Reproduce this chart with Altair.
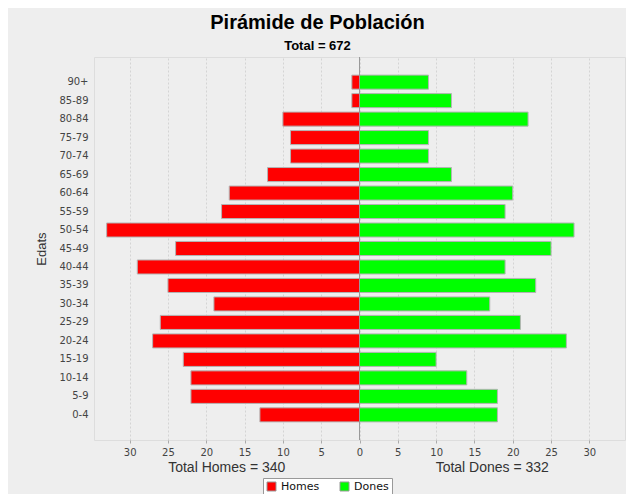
import altair as alt
import pandas as pd

# ---- data ----
edats = ["90+", "85-89", "80-84", "75-79", "70-74", "65-69", "60-64", "55-59",
         "50-54", "45-49", "40-44", "35-39", "30-34", "25-29", "20-24", "15-19",
         "10-14", "5-9", "0-4"]
homes = [1, 1, 10, 9, 9, 12, 17, 18, 33, 24, 29, 25, 19, 26, 27, 23, 22, 22, 13]
dones = [9, 12, 22, 9, 9, 12, 20, 19, 28, 25, 19, 23, 17, 21, 27, 10, 14, 18, 18]
sexes = ["Homes", "Dones"]
colors = ["#FF0000", "#00FF00"]
tick_values = [-30, -25, -20, -15, -10, -5, 0, 5, 10, 15, 20, 25, 30]

total_h = sum(homes)
total_d = sum(dones)
xmax = max(max(homes), max(dones)) * 1.05

rows = []
for e, h, d in zip(edats, homes, dones):
    rows.append({"Edat": e, "Sexe": "Homes", "v": -h})
    rows.append({"Edat": e, "Sexe": "Dones", "v": d})
df = pd.DataFrame(rows)

totals = pd.DataFrame({
    "x": [-xmax / 2, xmax / 2],
    "t": [f"Total Homes = {total_h}", f"Total Dones = {total_d}"],
})
zero = pd.DataFrame({"x": [0]})

W, H = 531, 383
xscale = alt.Scale(domain=[-xmax, xmax], nice=False, zero=True)
yscale = alt.Scale(domain=edats, paddingInner=0.24, paddingOuter=0.98)

bars = alt.Chart(df).mark_bar(stroke="#b4b4b4", strokeWidth=1).encode(
    x=alt.X("v:Q", scale=xscale,
            axis=alt.Axis(values=tick_values, labelExpr="'' + abs(datum.value)",
                          title=None, grid=True, gridDash=[2, 2], gridColor="#d4d4d4",
                          tickSize=3, tickColor="#aaaaaa", domain=False, labelPadding=4,
                          labelFont="DejaVu Sans", labelFontSize=10, labelColor="#444444")),
    y=alt.Y("Edat:N", scale=yscale, sort=edats,
            axis=alt.Axis(title="Edats", ticks=False, domain=False, labelPadding=6,
                          labelFont="DejaVu Sans", labelFontSize=10, labelColor="#444444",
                          titleFont="Liberation Sans", titleFontSize=13,
                          titleFontWeight="normal", titleColor="#333333", titlePadding=10)),
    color=alt.Color("Sexe:N", scale=alt.Scale(domain=sexes, range=colors),
                    legend=alt.Legend(title=None, orient="none", legendX=169, legendY=421,
                                      direction="horizontal", symbolType="square",
                                      symbolSize=81, symbolStrokeColor="#999999",
                                      symbolStrokeWidth=1, labelFont="DejaVu Sans",
                                      labelFontSize=11, labelColor="#111111",
                                      strokeColor="#999999", fillColor="white",
                                      padding=3, columnPadding=18, labelOffset=4)),
)

rule = alt.Chart(zero).mark_rule(color="#999999", strokeWidth=1).encode(
    x=alt.X("x:Q", scale=xscale)
)

txt = alt.Chart(totals).mark_text(font="Liberation Sans", fontSize=14, color="#333333",
                                  baseline="middle", align="center").encode(
    x=alt.X("x:Q", scale=xscale),
    y=alt.value(411),
    text="t:N",
)

chart = alt.layer(bars, rule, txt).properties(
    width=W, height=H,
    title=alt.TitleParams(text="Pirámide de Población",
                          subtitle=f"Total = {total_h + total_d}",
                          font="Liberation Sans", fontSize=20, fontWeight="bold",
                          color="black", subtitleFont="Liberation Sans",
                          subtitleFontSize=13, subtitleFontWeight="bold",
                          subtitleColor="black", anchor="middle", dx=-42,
                          offset=4, subtitlePadding=7),
    autosize=alt.AutoSizeParams(type="none"),
    padding={"left": 86, "top": 49, "right": 1, "bottom": 54},
).configure_view(fill="white", stroke="#aaaaaa").configure(background="#EEEEEE")

chart.save("out.html", embed_options={"renderer": "svg", "actions": False})
